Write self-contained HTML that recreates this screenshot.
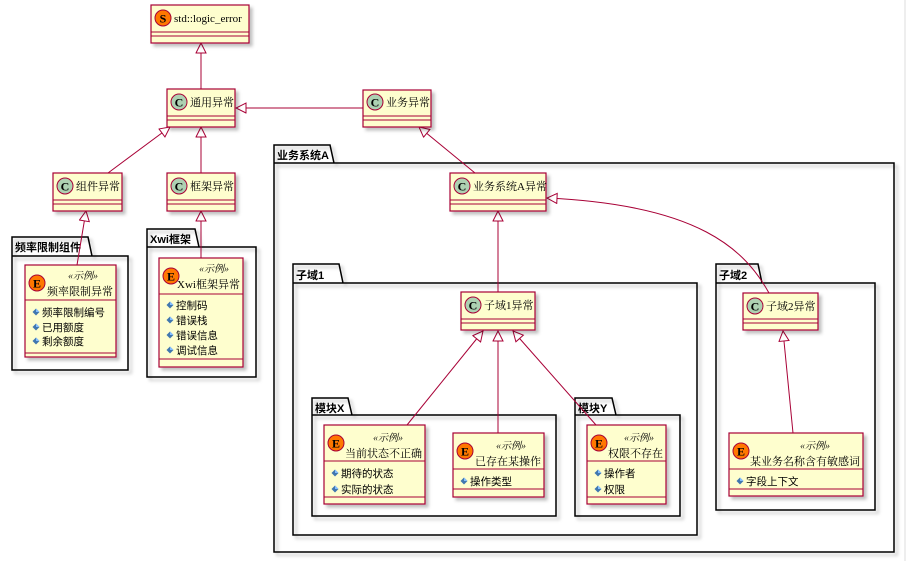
<!DOCTYPE html>
<html><head><meta charset="utf-8"><style>
html,body{margin:0;padding:0;background:#fff;width:907px;height:561px;overflow:hidden}
svg{display:block}
text{font-family:"Liberation Serif","Noto Serif CJK SC","Noto Sans CJK SC",serif;fill:#000}
.n{font-size:11px}
.st{font-size:10px;font-style:italic}
.pk{font-size:11px;font-weight:bold;font-family:"Liberation Sans","Noto Sans CJK SC",sans-serif}
.a{font-size:10.5px;font-family:"Liberation Sans","Noto Sans CJK SC",sans-serif}
.box{fill:#FEFECE;stroke:#A80036;stroke-width:1.2}
.sep{stroke:#A80036;stroke-width:1}
.pkg{fill:none;stroke:#000;stroke-width:1.5}
.e{stroke:#A80036;stroke-width:1;fill:none}
.tri{fill:#fff;stroke:#A80036;stroke-width:1}
</style></head><body>
<svg width="907" height="561" viewBox="0 0 907 561" xmlns="http://www.w3.org/2000/svg">
<defs>
<filter id="sh" x="-10%" y="-10%" width="130%" height="130%"><feDropShadow dx="3" dy="3" stdDeviation="1.5" flood-color="#000" flood-opacity="0.25"/></filter>
<marker id="t" markerWidth="12" markerHeight="12" refX="11" refY="5.5" orient="auto" markerUnits="userSpaceOnUse"><path d="M1,0.5 L11,5.5 L1,10.5 Z" class="tri"/></marker>
<g id="dia"><path d="M0,-3.5 L3.5,0 L0,3.5 L-3.5,0Z" fill="#4177AF"/><path d="M0,-3.5 L3.5,0 L0,0Z" fill="#84BEFF"/></g>
</defs>
<line x1="905" y1="0" x2="905" y2="561" stroke="#ddd"/>

<g filter="url(#sh)">
<path class="pkg" d="M12,256 L12,237 L88,237 L92,256 L128,256 L128,370 L12,370 Z M12,256 L92,256" fill="#fff"/>
<path class="pkg" d="M147,247 L147,229 L195,229 L199,247 L256,247 L256,377 L147,377 Z M147,247 L199,247" fill="#fff"/>
<path class="pkg" d="M274,163 L274,145 L330,145 L334,163 L894,163 L894,552 L274,552 Z M274,163 L334,163" fill="#fff"/>
<path class="pkg" d="M293,283 L293,264 L339,264 L343,283 L697,283 L697,535 L293,535 Z M293,283 L343,283"/>
<path class="pkg" d="M716,283 L716,264 L758,264 L762,283 L875,283 L875,510 L716,510 Z M716,283 L762,283"/>
<path class="pkg" d="M312,415 L312,398 L348,398 L352,415 L556,415 L556,516 L312,516 Z M312,415 L352,415"/>
<path class="pkg" d="M575,415 L575,398 L612,398 L616,415 L680,415 L680,516 L575,516 Z M575,415 L616,415"/>
</g>
<text class="pk" x="15" y="251">频率限制组件</text>
<text class="pk" x="150" y="243">Xwi框架</text>
<text class="pk" x="277" y="159">业务系统A</text>
<text class="pk" x="296" y="279">子域1</text>
<text class="pk" x="719" y="279">子域2</text>
<text class="pk" x="315" y="412">模块X</text>
<text class="pk" x="578" y="412">模块Y</text>

<line class="e" x1="201" y1="89" x2="201" y2="43" marker-end="url(#t)"/>
<line class="e" x1="363" y1="108" x2="236" y2="108" marker-end="url(#t)"/>
<line class="e" x1="108" y1="173" x2="170" y2="127" marker-end="url(#t)"/>
<line class="e" x1="201" y1="173" x2="201" y2="127" marker-end="url(#t)"/>
<line class="e" x1="77" y1="265" x2="86" y2="211" marker-end="url(#t)"/>
<line class="e" x1="201" y1="258" x2="201" y2="211" marker-end="url(#t)"/>
<line class="e" x1="475" y1="173" x2="419" y2="127" marker-end="url(#t)"/>
<line class="e" x1="498" y1="292" x2="498" y2="211" marker-end="url(#t)"/>
<path class="e" d="M769,293 C745,250 700,205 547,198" marker-end="url(#t)"/>
<line class="e" x1="407" y1="425" x2="483" y2="331" marker-end="url(#t)"/>
<line class="e" x1="498" y1="433" x2="498" y2="331" marker-end="url(#t)"/>
<line class="e" x1="596" y1="425" x2="513" y2="331" marker-end="url(#t)"/>
<line class="e" x1="793" y1="433" x2="783" y2="331" marker-end="url(#t)"/>

<g filter="url(#sh)">
<rect class="box" x="151" y="5" width="98" height="38"/>
<rect class="box" x="167" y="89" width="68" height="38"/>
<rect class="box" x="363" y="90" width="68" height="37"/>
<rect class="box" x="53" y="173" width="69" height="38"/>
<rect class="box" x="167" y="173" width="68" height="38"/>
<rect class="box" x="450" y="173" width="96" height="38"/>
<rect class="box" x="461" y="292" width="74" height="38"/>
<rect class="box" x="743" y="293" width="75" height="37"/>
<rect class="box" x="25" y="265" width="91" height="92"/>
<rect class="box" x="159" y="258" width="84" height="109"/>
<rect class="box" x="324" y="425" width="101" height="79"/>
<rect class="box" x="453" y="433" width="91" height="64"/>
<rect class="box" x="587" y="425" width="79" height="79"/>
<rect class="box" x="729" y="433" width="134" height="63"/>
</g>
<g class="sep">
<line x1="151" y1="32" x2="249" y2="32"/><line x1="151" y1="36" x2="249" y2="36"/>
<line x1="167" y1="116" x2="235" y2="116"/><line x1="167" y1="120" x2="235" y2="120"/>
<line x1="363" y1="116" x2="431" y2="116"/><line x1="363" y1="120" x2="431" y2="120"/>
<line x1="53" y1="200" x2="122" y2="200"/><line x1="53" y1="204" x2="122" y2="204"/>
<line x1="167" y1="200" x2="235" y2="200"/><line x1="167" y1="204" x2="235" y2="204"/>
<line x1="450" y1="200" x2="546" y2="200"/><line x1="450" y1="204" x2="546" y2="204"/>
<line x1="461" y1="319" x2="535" y2="319"/><line x1="461" y1="323" x2="535" y2="323"/>
<line x1="743" y1="319" x2="818" y2="319"/><line x1="743" y1="323" x2="818" y2="323"/>
<line x1="25" y1="300" x2="116" y2="300"/><line x1="25" y1="353" x2="116" y2="353"/>
<line x1="159" y1="294" x2="243" y2="294"/><line x1="159" y1="359" x2="243" y2="359"/>
<line x1="324" y1="461" x2="425" y2="461"/><line x1="324" y1="497" x2="425" y2="497"/>
<line x1="453" y1="469" x2="544" y2="469"/><line x1="453" y1="489" x2="544" y2="489"/>
<line x1="587" y1="461" x2="666" y2="461"/><line x1="587" y1="497" x2="666" y2="497"/>
<line x1="729" y1="469" x2="863" y2="469"/><line x1="729" y1="489" x2="863" y2="489"/>
</g>

<g stroke="#A80036" stroke-width="1">
<circle cx="163" cy="18" r="8" fill="#FF7700"/>
<circle cx="179" cy="102" r="8" fill="#ADD1B2"/>
<circle cx="375" cy="102" r="8" fill="#ADD1B2"/>
<circle cx="65" cy="186" r="8" fill="#ADD1B2"/>
<circle cx="179" cy="186" r="8" fill="#ADD1B2"/>
<circle cx="462" cy="186" r="8" fill="#ADD1B2"/>
<circle cx="473" cy="305" r="8" fill="#ADD1B2"/>
<circle cx="755" cy="306" r="8" fill="#ADD1B2"/>
<circle cx="37" cy="283" r="8" fill="#FF7700"/>
<circle cx="171" cy="276" r="8" fill="#FF7700"/>
<circle cx="336" cy="443" r="8" fill="#FF7700"/>
<circle cx="465" cy="451" r="8" fill="#FF7700"/>
<circle cx="599" cy="443" r="8" fill="#FF7700"/>
<circle cx="741" cy="451" r="8" fill="#FF7700"/>
</g>
<g font-weight="bold" font-size="12" text-anchor="middle">
<text x="163" y="22.5">S</text>
<text x="179" y="106.5">C</text><text x="375" y="106.5">C</text><text x="65" y="190.5">C</text>
<text x="179" y="190.5">C</text><text x="462" y="190.5">C</text><text x="473" y="309.5">C</text>
<text x="755" y="310.5">C</text>
<text x="37" y="287.5">E</text><text x="171" y="280.5">E</text><text x="336" y="447.5">E</text>
<text x="465" y="455.5">E</text><text x="599" y="447.5">E</text><text x="741" y="455.5">E</text>
</g>

<text class="n" x="174" y="22">std::logic_error</text>
<text class="n" x="190" y="106">通用异常</text>
<text class="n" x="386" y="106">业务异常</text>
<text class="n" x="76" y="190">组件异常</text>
<text class="n" x="190" y="190">框架异常</text>
<text class="n" x="473" y="190">业务系统A异常</text>
<text class="n" x="484" y="309">子域1异常</text>
<text class="n" x="766" y="310">子域2异常</text>

<g text-anchor="middle">
<text class="st" x="83" y="279">«示例»</text>
<text class="st" x="214" y="272">«示例»</text>
<text class="st" x="388" y="441">«示例»</text>
<text class="st" x="511" y="449">«示例»</text>
<text class="st" x="639" y="441">«示例»</text>
<text class="st" x="815" y="449">«示例»</text>
</g>
<g text-anchor="end">
<text class="n" x="113" y="295">频率限制异常</text>
<text class="n" x="240" y="288">Xwi框架异常</text>
<text class="n" x="422" y="457">当前状态不正确</text>
<text class="n" x="541" y="465">已存在某操作</text>
<text class="n" x="663" y="457">权限不存在</text>
<text class="n" x="860" y="465">某业务名称含有敏感词</text>
</g>

<use href="#dia" x="36" y="312"/><text class="a" x="42" y="316">频率限制编号</text>
<use href="#dia" x="36" y="327"/><text class="a" x="42" y="331">已用额度</text>
<use href="#dia" x="36" y="341"/><text class="a" x="42" y="345">剩余额度</text>
<use href="#dia" x="170" y="305"/><text class="a" x="176" y="309">控制码</text>
<use href="#dia" x="170" y="320"/><text class="a" x="176" y="324">错误栈</text>
<use href="#dia" x="170" y="335"/><text class="a" x="176" y="339">错误信息</text>
<use href="#dia" x="170" y="350"/><text class="a" x="176" y="354">调试信息</text>
<use href="#dia" x="335" y="473"/><text class="a" x="341" y="477">期待的状态</text>
<use href="#dia" x="335" y="489"/><text class="a" x="341" y="493">实际的状态</text>
<use href="#dia" x="464" y="481"/><text class="a" x="470" y="485">操作类型</text>
<use href="#dia" x="598" y="473"/><text class="a" x="604" y="477">操作者</text>
<use href="#dia" x="598" y="489"/><text class="a" x="604" y="493">权限</text>
<use href="#dia" x="740" y="481"/><text class="a" x="746" y="485">字段上下文</text>
</svg>
</body></html>
